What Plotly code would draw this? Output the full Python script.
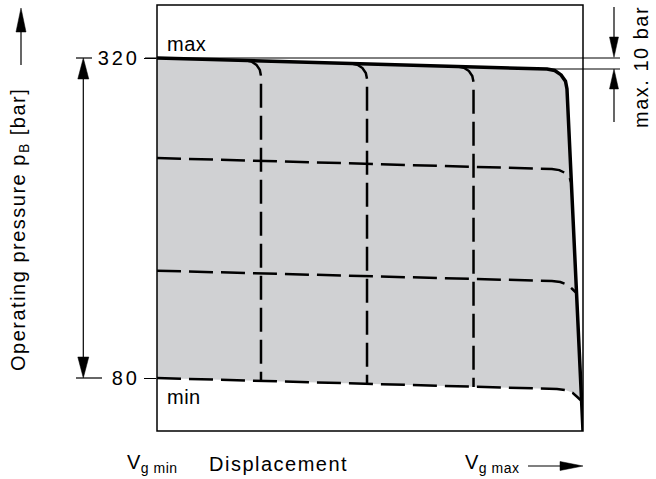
import plotly.graph_objects as go

# ---------------- data (displacement in % of Vg max, pressure in bar) ----------------
pressure_ticks = [80, 320]
pressure_tick_labels = ["80", "320"]

# envelope: max-pressure line with rounded corner, then steep fall at Vg max
max_curve_x = [0, 91.55, 93.36, 94.86, 95.89, 96.24, 100.0]
max_curve_y = [320, 311.75, 310.63, 307.33, 302.53, 296.75, 40.25]

# upper edge of the shaded operating area (envelope down to the min line)
area_upper_x = [0, 91.55, 93.36, 94.86, 95.89, 96.24, 99.67]
area_upper_y = [320, 311.75, 310.63, 307.33, 302.53, 296.75, 63.5]

# min-pressure line (dashed, lower edge of the shaded area)
min_curve_x = [0, 93.9, 95.87, 97.56, 98.66, 99.41]
min_curve_y = [80, 71.75, 71.0, 68.9, 65.75, 63.5]

# intermediate pressure settings (dashed)
mid1_x = [0, 92.72, 94.44, 95.87, 96.85, 97.28]
mid1_y = [245, 236.75, 235.93, 233.68, 230.3, 226.25]
mid2_x = [0, 92.72, 94.69, 96.38, 97.49, 98.47]
mid2_y = [160.5, 152.75, 152.0, 149.9, 146.75, 143.75]

# intermediate displacement settings (dashed verticals)
vert1_x = [20.77, 22.16, 23.35, 24.14, 24.41, 24.41]
vert1_y = [318.25, 317.35, 314.85, 311.07, 306.5, 77.75]
vert2_x = [45.66, 47.04, 48.23, 49.02, 49.30, 49.30]
vert2_y = [315.875, 314.975, 312.47, 308.70, 304.25, 75.5]
vert3_x = [70.66, 72.04, 73.23, 74.01, 74.30, 74.30]
vert3_y = [313.625, 312.725, 310.22, 306.45, 302.0, 73.25]

# "max. 10 bar" dimension levels
drop_levels = [320, 311.75]

y_range = [40.25, 359.75]
x_range = [0, 100]

# ---------------- layout helpers (pixel -> paper) ----------------
W, H = 656, 479
L, R, T, B = 157, 583, 5, 431


def fx(px):
    return (px - L) / (R - L)


def fy(py):
    return (B - py) / (B - T)


FONT = "Liberation Sans, Arial, Helvetica, sans-serif"
GREY = "#d0d1d3"
DASH = "24px,8px"

fig = go.Figure()

# shaded area
fig.add_trace(go.Scatter(x=min_curve_x, y=min_curve_y, mode="lines",
                         line=dict(width=0, color=GREY), hoverinfo="skip"))
fig.add_trace(go.Scatter(x=area_upper_x, y=area_upper_y, mode="lines",
                         line=dict(width=0, color=GREY),
                         fill="tonexty", fillcolor=GREY, hoverinfo="skip"))

# dashed curves
for xs, ys in [(mid1_x, mid1_y), (mid2_x, mid2_y), (min_curve_x, min_curve_y),
               (vert1_x, vert1_y), (vert2_x, vert2_y), (vert3_x, vert3_y)]:
    fig.add_trace(go.Scatter(x=xs, y=ys, mode="lines",
                             line=dict(color="black", width=2.5, dash=DASH),
                             hoverinfo="skip"))

# envelope
fig.add_trace(go.Scatter(x=max_curve_x, y=max_curve_y, mode="lines",
                         line=dict(color="black", width=3.5),
                         hoverinfo="skip"))

shapes = []
# frame
shapes.append(dict(type="rect", xref="paper", yref="paper", x0=0, x1=1, y0=0, y1=1,
                   line=dict(color="black", width=1.5), layer="above"))


def hline_px(x0, x1, y, yref="paper", w=1.2):
    return dict(type="line", xref="paper", yref=yref, x0=fx(x0), x1=fx(x1),
                y0=y, y1=y, line=dict(color="black", width=w))


def vline_px(x, y0, y1, w=1.2):
    return dict(type="line", xref="paper", yref="paper", x0=fx(x), x1=fx(x),
                y0=fy(y0), y1=fy(y1), line=dict(color="black", width=w))


def tri(points):
    p = " L ".join(f"{fx(a):.5f},{fy(b):.5f}" for a, b in points)
    return dict(type="path", xref="paper", yref="paper", path=f"M {p} Z",
                fillcolor="black", line=dict(color="black", width=0.5))


# short lines left of the tick labels
shapes.append(hline_px(76, 92, pressure_ticks[1], yref="y"))
shapes.append(hline_px(76, 102, pressure_ticks[0], yref="y"))
# double arrow between 80 and 320
shapes.append(vline_px(83.3, 76, 360))
shapes.append(tri([(83.3, 58), (77.8, 79), (88.8, 79)]))
shapes.append(tri([(83.3, 378), (77.8, 357), (88.8, 357)]))
# axis direction arrow (top-left)
shapes.append(vline_px(21, 30, 65))
shapes.append(tri([(21, 8), (16, 32), (26, 32)]))
# "max. 10 bar" dimension
shapes.append(hline_px(145, 620, drop_levels[0], yref="y", w=1))
shapes.append(hline_px(540, 620, drop_levels[1], yref="y", w=1))
shapes.append(vline_px(614, 7, 40))
shapes.append(tri([(614, 57.3), (609.5, 37), (618.5, 37)]))
shapes.append(vline_px(614, 88, 122))
shapes.append(tri([(614, 69), (609.5, 89), (618.5, 89)]))
# displacement arrow (bottom-right)
shapes.append(dict(type="line", xref="paper", yref="paper", x0=fx(528), x1=fx(562),
                   y0=fy(466), y1=fy(466), line=dict(color="black", width=1.2)))
shapes.append(tri([(583, 466), (560, 461.5), (560, 470.5)]))


def sp(text, ls):
    return f'<span style="letter-spacing:{ls}px">{text}</span>'


def ann(text, x, y, xanchor="left", angle=0, size=20):
    return dict(text=text, x=fx(x), y=fy(y), xref="paper", yref="paper",
                xanchor=xanchor, yanchor="middle", showarrow=False, textangle=angle,
                font=dict(family=FONT, size=size, color="black"))


annotations = [
    ann(sp("max", 0.5), 165, 44),
    ann(sp("min", 0.5), 165, 397),
    ann(sp("Displacement", 1.5), 207, 463.5),
    ann(sp("V<sub>g min</sub>", 0.5), 125, 463.5),
    ann(sp("V<sub>g max</sub>", 0.5), 463, 463.5),
    ann(sp("Operating pressure p<sub>B</sub> [bar]", 1.5), 20, 230, xanchor="center", angle=-90),
    ann(sp("max. 10 bar", 1.5), 641, 67, xanchor="center", angle=-90),
]

fig.update_layout(
    width=W, height=H,
    margin=dict(l=L, r=W - R, t=T, b=H - B, pad=0),
    paper_bgcolor="white", plot_bgcolor="white",
    showlegend=False,
    xaxis=dict(range=x_range, visible=False, fixedrange=True),
    yaxis=dict(range=y_range, tickvals=pressure_ticks,
               ticktext=[sp(t, 3) for t in pressure_tick_labels],
               ticks="outside", ticklen=12, tickwidth=1.2, tickcolor="black",
               showgrid=False, zeroline=False, showline=False, fixedrange=True,
               tickfont=dict(family=FONT, size=20, color="black")),
    shapes=shapes,
    annotations=annotations,
)

fig.write_html("out.html", config={"displayModeBar": False})
